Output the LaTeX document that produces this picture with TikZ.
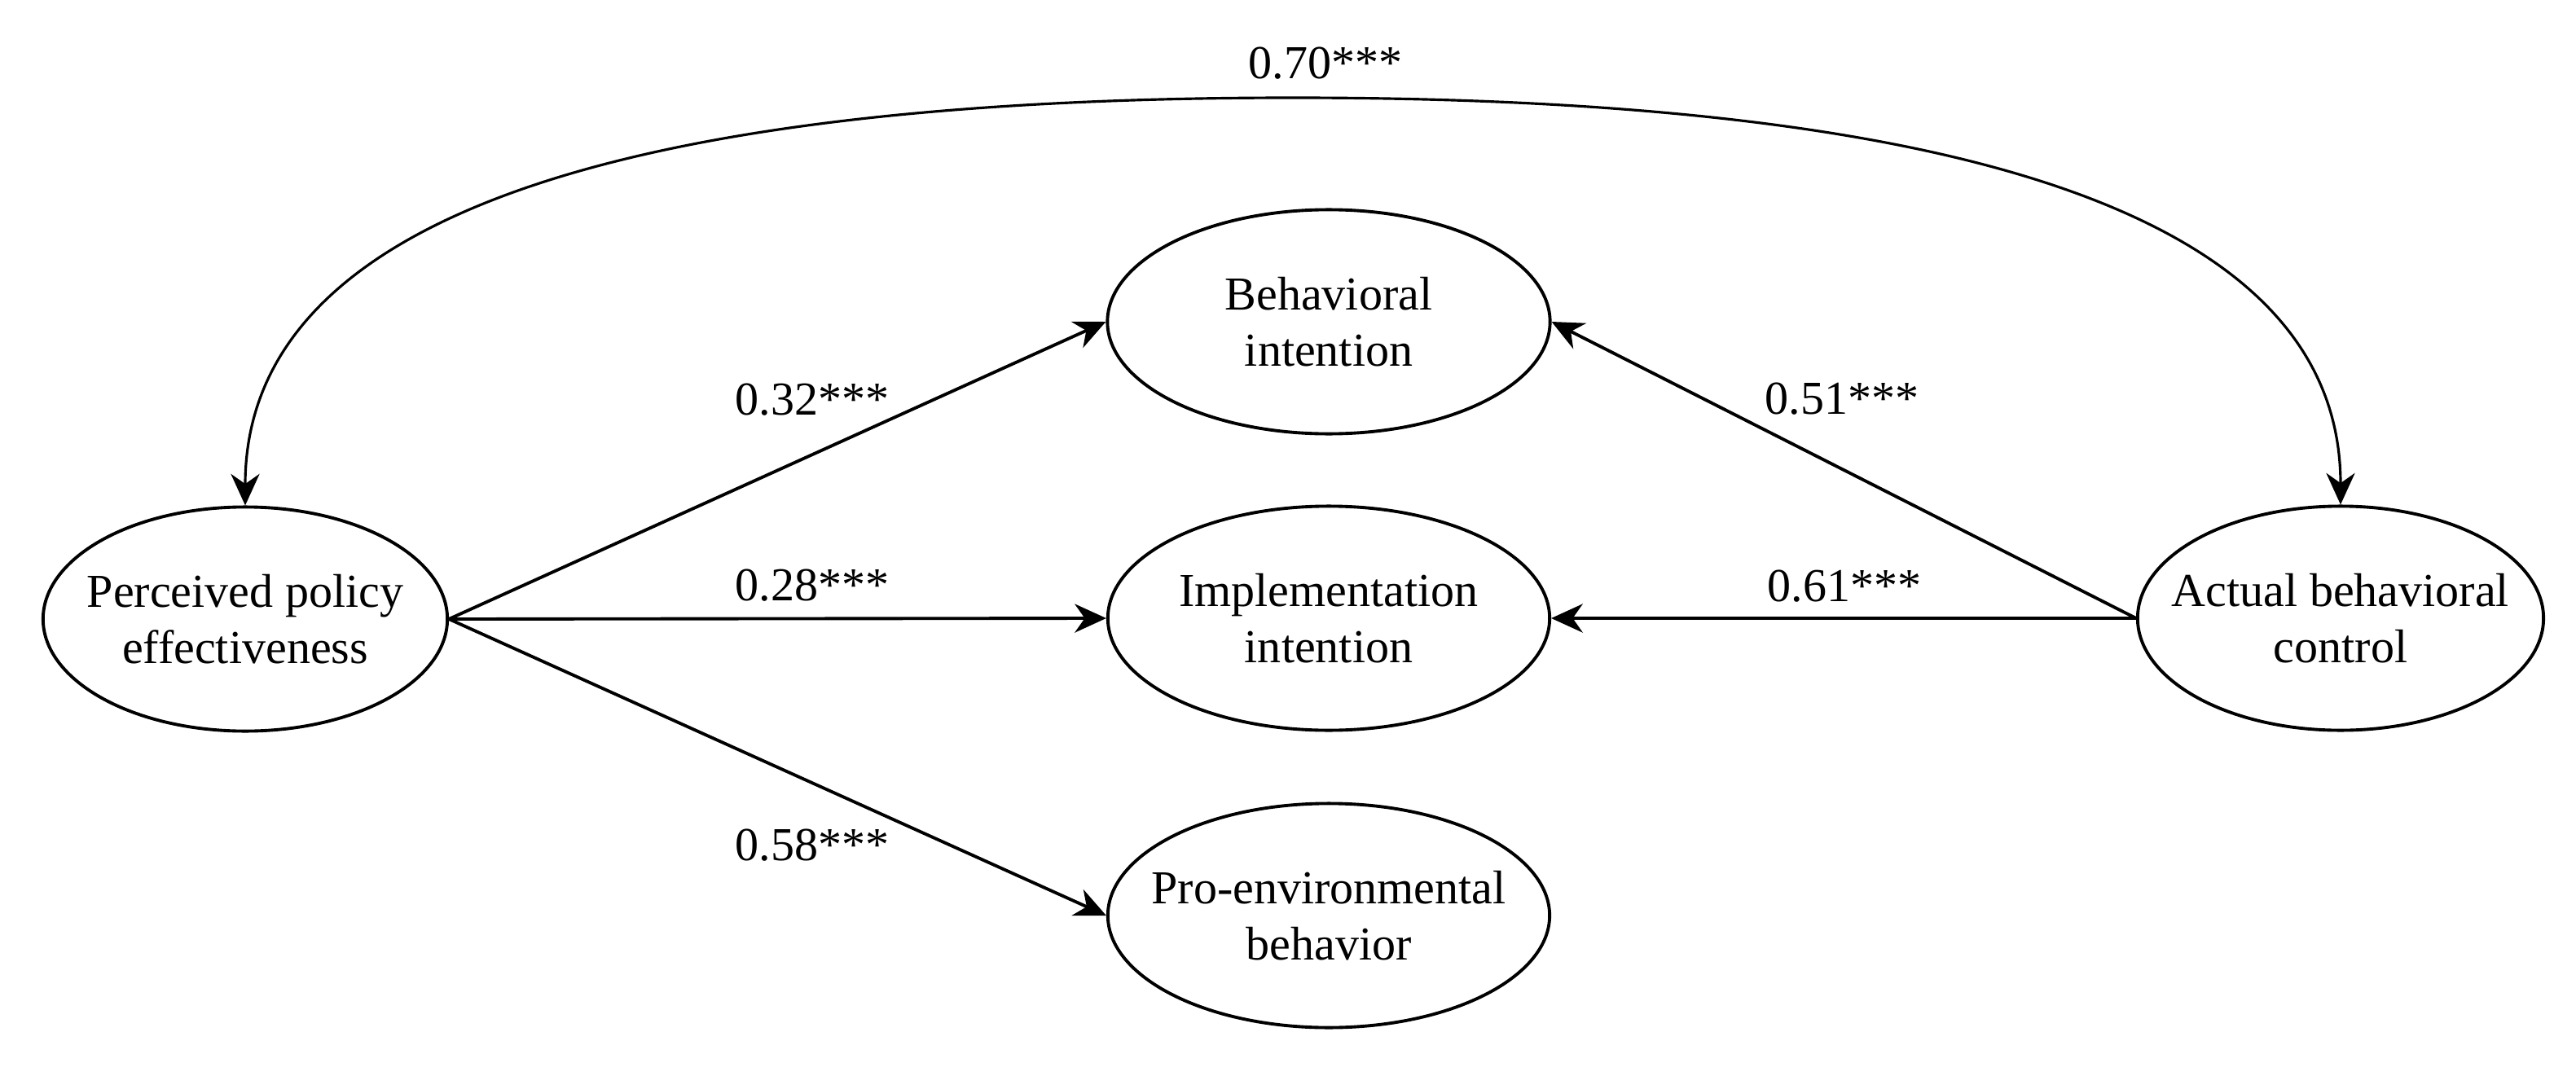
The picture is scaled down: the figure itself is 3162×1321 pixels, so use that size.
\documentclass[tikz,border=0pt]{standalone}
\usepackage{fontspec}
\setmainfont{Liberation Serif}
\usetikzlibrary{shapes.geometric,arrows.meta}
\begin{document}
\begin{tikzpicture}[x=0.01cm,y=-0.01cm,
  latent/.style={draw,ellipse,line width=1.1pt,inner sep=0pt,minimum height=2.75cm},
  lbl/.style={font=\fontsize{16.5}{19.8}\selectfont,align=center,inner sep=0pt},
  coef/.style={font=\fontsize{16.5}{19.8}\selectfont,anchor=base,inner sep=0pt},
  arr/.style={line width=1.1pt,-{Stealth[length=11pt,width=10pt,inset=3.5pt]}},
  cov/.style={line width=0.9pt,{Stealth[length=11pt,width=10pt,inset=3.5pt]}-{Stealth[length=11pt,width=10pt,inset=3.5pt]}}]
\useasboundingbox (0,0) rectangle (3162,1321);
\node[latent,minimum width=4.96cm,label={[lbl,name=ppet]center:Perceived policy\\effectiveness}] (ppe) at (301,760) {};
\node[latent,minimum width=5.43cm,label={[lbl,name=bit]center:Behavioral\\intention}] (bi) at (1631,395) {};
\node[latent,minimum width=5.42cm,label={[lbl,name=iit]center:Implementation\\intention}] (ii) at (1631,759) {};
\node[latent,minimum width=5.42cm,label={[lbl,name=pebt]center:Pro-environmental\\behavior}] (peb) at (1631,1124) {};
\node[latent,minimum width=4.98cm,label={[lbl,name=abct]center:Actual behavioral\\control}] (abc) at (2873,759) {};
\coordinate (top) at (1587,120);
\draw[arr] (ppe.east) -- (bi.west);
\draw[arr] (ppe.east) -- (ii.west);
\draw[arr] (ppe.east) -- (peb.west);
\draw[arr] (abc.west) -- (bi.east);
\draw[arr] (abc.west) -- (ii.east);
\draw[cov] (ppe.north) .. controls +(0,-326) and +(-900,0) .. (top) .. controls +(900,0) and +(0,-326) .. (abc.north);
\node[coef] (c1) at (997,509) {0.32***};
\node[coef] (c2) at (997,737) {0.28***};
\node[coef] (c3) at (997,1056) {0.58***};
\node[coef] (c4) at (2261,508) {0.51***};
\node[coef] (c5) at (2264,738) {0.61***};
\node[coef] (c6) at (1627,97) {0.70***};
\end{tikzpicture}
\end{document}
